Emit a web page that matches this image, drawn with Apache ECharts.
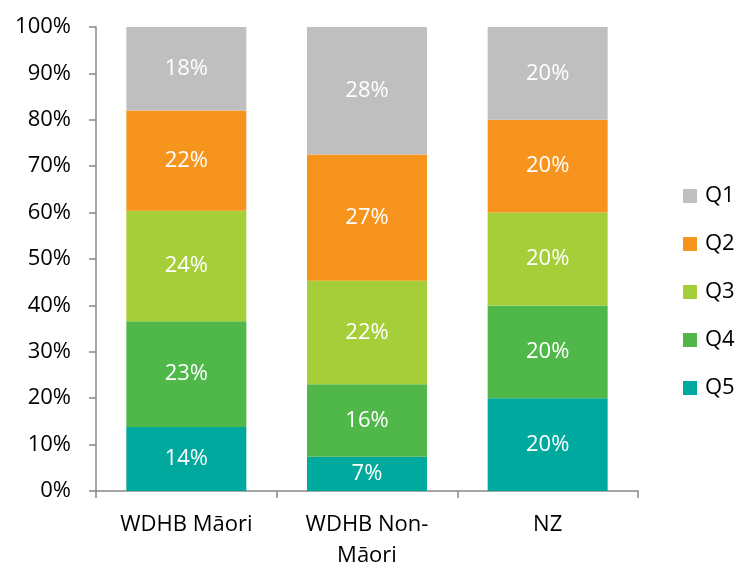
<!DOCTYPE html>
<html>
<head>
<meta charset="utf-8">
<script src="https://cdn.jsdelivr.net/npm/echarts@6/dist/echarts.min.js"></script>
<style>
  html, body { margin: 0; padding: 0; background: #fff; }
  #chart { width: 737px; height: 567px; }
</style>
</head>
<body>
<div id="chart"></div>
<script>
// categories and values (percent of population in each quintile)
var categories = ['WDHB Māori', 'WDHB Non-\nMāori', 'NZ'];
var q5 = [13.8, 7.4, 20];
var q4 = [22.8, 15.6, 20];
var q3 = [23.8, 22.3, 20];
var q2 = [21.6, 27.2, 20];
var q1 = [18.0, 27.5, 20];
var yTicks = [0, 10, 20, 30, 40, 50, 60, 70, 80, 90, 100];

var font = '"Open Sans", "Liberation Sans", sans-serif';
var myChart = echarts.init(document.getElementById('chart'));

function makeSeries(name, data, color) {
  return {
    name: name,
    type: 'bar',
    stack: 'total',
    data: data,
    barWidth: 120,
    itemStyle: { color: color, borderWidth: 0 },
    label: {
      show: true,
      position: 'inside',
      color: '#fff',
      fontFamily: font,
      fontSize: 22,
      formatter: function (p) { return Math.round(p.value) + '%'; }
    },
    emphasis: { disabled: true }
  };
}

myChart.setOption({
  animation: false,
  grid: { left: 96, right: 99, top: 27, bottom: 76, containLabel: false, outerBoundsMode: 'none' },
  legend: {
    orient: 'vertical',
    left: 678,
    top: 180,
    itemWidth: 14,
    itemHeight: 14,
    itemGap: 26,
    icon: 'rect',
    data: ['Q1', 'Q2', 'Q3', 'Q4', 'Q5'],
    textStyle: { color: '#000', fontFamily: font, fontSize: 22, padding: [0, 0, 0, 3] }
  },
  xAxis: {
    type: 'category',
    data: categories,
    axisLine: { lineStyle: { color: '#888', width: 1.5 } },
    axisTick: { show: true, length: 7, lineStyle: { color: '#888', width: 1.5 } },
    axisLabel: { color: '#000', fontFamily: font, fontSize: 22, margin: 18, lineHeight: 31 }
  },
  yAxis: {
    type: 'value',
    min: yTicks[0],
    max: yTicks[yTicks.length - 1],
    interval: 10,
    axisLine: { show: true, lineStyle: { color: '#888', width: 1.5 } },
    axisTick: { show: true, length: 7, lineStyle: { color: '#888', width: 1.5 } },
    splitLine: { show: false },
    axisLabel: { color: '#000', fontFamily: font, fontSize: 22, margin: 25, formatter: '{value}%' }
  },
  series: [
    makeSeries('Q5', q5, '#00a99d'),
    makeSeries('Q4', q4, '#50b848'),
    makeSeries('Q3', q3, '#a6ce39'),
    makeSeries('Q2', q2, '#f7941d'),
    makeSeries('Q1', q1, '#bfbfbf')
  ]
});
</script>
</body>
</html>
